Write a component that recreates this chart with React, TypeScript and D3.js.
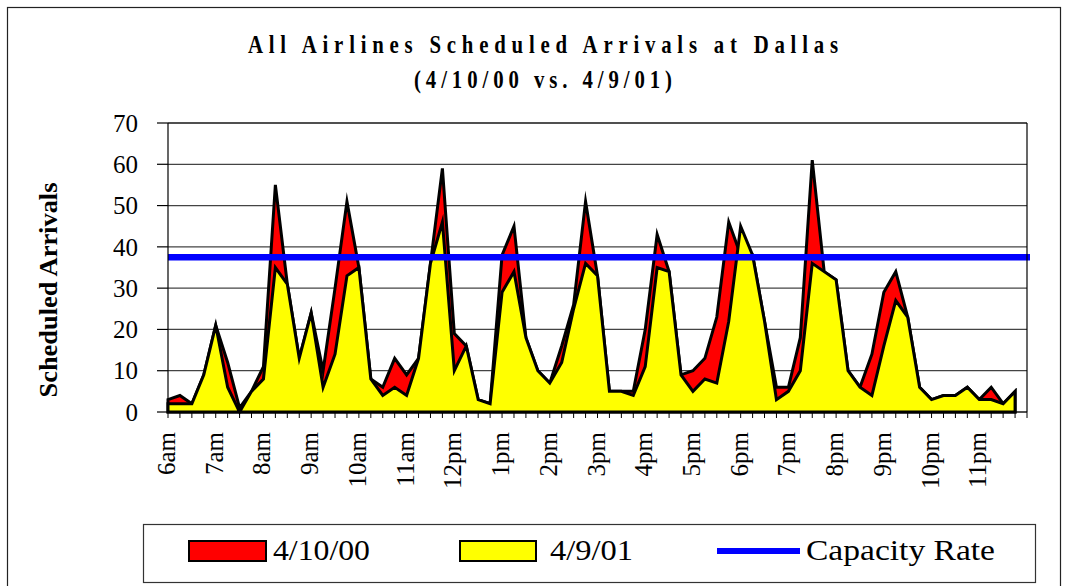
import React from "react";
import * as d3 from "d3";

// 15-minute slots from 6:00am to 11:45pm (72 slots); axis runs to midnight
const hourLabels = ["6am","7am","8am","9am","10am","11am","12pm","1pm","2pm","3pm","4pm","5pm","6pm","7pm","8pm","9pm","10pm","11pm"];

const arrivals2000 = [
  3, 4, 2, 9, 21, 12, 1, 5,
  11, 55, 31, 13, 24, 10, 30, 51,
  35, 8, 6, 13, 9, 13, 36, 59,
  19, 16, 3, 2, 38, 45, 18, 10,
  7, 16, 26, 51, 33, 5, 5, 5,
  20, 43, 34, 9, 10, 13, 23, 46,
  38, 38, 22, 6, 6, 18, 61, 34,
  32, 10, 6, 14, 29, 34, 23, 6,
  3, 4, 4, 6, 3, 6, 2, 5,
];

const arrivals2001 = [
  2, 2, 2, 9, 21, 6, 0, 5,
  8, 35, 31, 13, 24, 6, 14, 33,
  35, 8, 4, 6, 4, 13, 36, 46,
  10, 16, 3, 2, 29, 34, 18, 10,
  7, 12, 25, 36, 33, 5, 5, 4,
  11, 35, 34, 9, 5, 8, 7, 22,
  45, 38, 22, 3, 5, 10, 36, 34,
  32, 10, 6, 4, 16, 27, 23, 6,
  3, 4, 4, 6, 3, 3, 2, 5,
];

const capacityRate = 37.5;
const yTicks = [0, 10, 20, 30, 40, 50, 60, 70];
const slotCount = 72;

const W = 1068;
const H = 586;
const plot = { left: 168, right: 1027, top: 123, bottom: 412 };

export default function App() {
  const x = d3.scaleLinear().domain([0, slotCount]).range([plot.left, plot.right]);
  const y = d3.scaleLinear().domain([0, 70]).range([plot.bottom, plot.top]);

  const area = d3
    .area<number>()
    .x((_, i) => x(i))
    .y0(y(0))
    .y1((d) => y(d));

  const serif = "'Liberation Serif', 'Times New Roman', serif";
  const ticks = d3.range(0, slotCount + 1);
  const ts = { fontFamily: serif };
  const sx = 0.8;

  return (
    <svg
      width={W}
      height={H}
      style={{ position: "absolute", left: 0, top: 0, background: "#fff", fontFamily: serif }}
    >
      <rect x={0} y={0} width={W} height={H} fill="#fff" />
      {/* outer chart border */}
      <rect x={7.5} y={7.5} width={1053} height={640} fill="none" stroke="#222" strokeWidth={1.2} />

      {/* title */}
      <g transform={`translate(543,53) scale(${sx},1)`}>
        <text style={{ ...ts, fontSize: "26px", fontWeight: "bold" }} x={0} y={0} textAnchor="middle" textLength={590 / sx} lengthAdjust="spacing">
          All Airlines Scheduled Arrivals at Dallas
        </text>
      </g>
      <g transform={`translate(543,88) scale(${sx},1)`}>
        <text style={{ ...ts, fontSize: "26px", fontWeight: "bold" }} x={0} y={0} textAnchor="middle" textLength={258 / sx} lengthAdjust="spacing">
          (4/10/00 vs. 4/9/01)
        </text>
      </g>

      {/* gridlines */}
      {yTicks.map((t) => (
        <line key={"g" + t} x1={plot.left} x2={plot.right} y1={y(t)} y2={y(t)} stroke="#444" strokeWidth={1.2} />
      ))}

      {/* areas */}
      <path d={area(arrivals2000) || ""} fill="#ff0000" stroke="#000" strokeWidth={3} strokeLinejoin="miter" strokeMiterlimit={10} />
      <path d={area(arrivals2001) || ""} fill="#ffff00" stroke="#000" strokeWidth={3} strokeLinejoin="miter" strokeMiterlimit={10} />

      {/* capacity rate */}
      <line x1={plot.left} x2={plot.right + 3} y1={y(capacityRate)} y2={y(capacityRate)} stroke="#0000ff" strokeWidth={6.5} />

      {/* plot border top/right */}
      <line x1={plot.left} x2={plot.right} y1={plot.top} y2={plot.top} stroke="#000" strokeWidth={1.2} />
      <line x1={plot.right} x2={plot.right} y1={plot.top} y2={plot.bottom} stroke="#000" strokeWidth={1.2} />

      {/* y axis */}
      <line x1={plot.left} x2={plot.left} y1={plot.top} y2={plot.bottom} stroke="#000" strokeWidth={1.2} />
      {yTicks.map((t) => (
        <g key={"y" + t}>
          <line x1={plot.left - 11} x2={plot.left} y1={y(t)} y2={y(t)} stroke="#000" strokeWidth={1.2} />
          <text style={ts} x={138} y={y(t)} dy="0.35em" textAnchor="end" fontSize={25}>
            {t}
          </text>
        </g>
      ))}

      {/* x axis */}
      <line x1={plot.left} x2={plot.right} y1={plot.bottom} y2={plot.bottom} stroke="#000" strokeWidth={1.2} />
      {ticks.map((i) => (
        <line key={"xt" + i} x1={x(i)} x2={x(i)} y1={plot.bottom} y2={plot.bottom + 6} stroke="#000" strokeWidth={1} />
      ))}
      {hourLabels.map((lab, k) => {
        const tx = x(k * 4) + 7;
        return (
          <text style={ts} key={lab} transform={`translate(${tx},432) rotate(-90)`} textAnchor="end" fontSize={25}>
            {lab}
          </text>
        );
      })}

      {/* y axis title */}
      <text style={ts} transform="translate(57,290) rotate(-90)" textAnchor="middle" fontWeight="bold" fontSize={25} textLength={215} lengthAdjust="spacingAndGlyphs">
        Scheduled Arrivals
      </text>

      {/* legend */}
      <rect x={143.5} y={524.5} width={892} height={58} fill="#fff" stroke="#333" strokeWidth={1.2} />
      <rect x={189} y={541} width={77} height={20} fill="#ff0000" stroke="#000" strokeWidth={2} />
      <text style={ts} x={273} y={560} fontSize={29} textLength={97} lengthAdjust="spacingAndGlyphs">4/10/00</text>
      <rect x={460} y={541} width={76} height={20} fill="#ffff00" stroke="#000" strokeWidth={2} />
      <text style={ts} x={550} y={560} fontSize={29} textLength={83} lengthAdjust="spacingAndGlyphs">4/9/01</text>
      <line x1={717} x2={800} y1={551} y2={551} stroke="#0000ff" strokeWidth={6} />
      <text style={ts} x={806} y={560} fontSize={29} textLength={189} lengthAdjust="spacingAndGlyphs">Capacity Rate</text>
    </svg>
  );
}
